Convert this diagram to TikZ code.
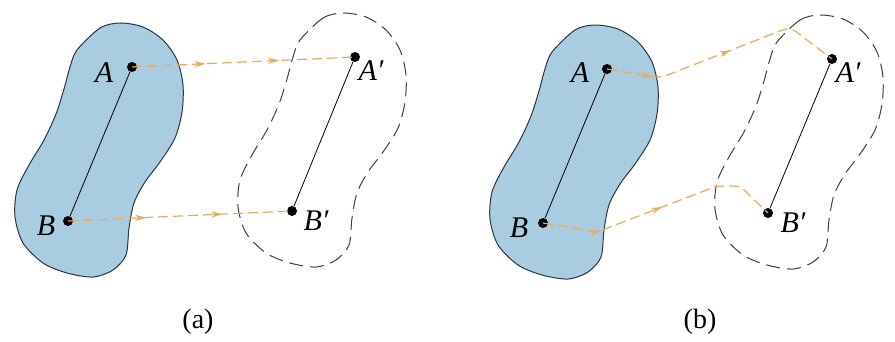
\documentclass[tikz,border=0pt]{standalone}
\usepackage{fontspec}
\setmainfont{Liberation Serif}
\usetikzlibrary{arrows.meta,decorations.markings}
\definecolor{bodyblue}{RGB}{170,204,225}
\definecolor{edge}{RGB}{40,55,68}
\definecolor{trail}{RGB}{233,172,92}
\tikzset{
  blob/.pic={\path[pic actions] plot[smooth cycle, tension=0.5] coordinates {
    (77,50) (100,28) (120,23) (143,27) (163,40) (177,60) (183,85) (182,112)
    (175,138) (160,162) (145,182) (134,203) (129,228) (126,255) (113,270)
    (93,277) (67,273) (43,263) (23,243) (15,217) (17,190) (29,165) (44,140)
    (56,114) (64,89) (70,67)};},
  solidbody/.style={fill=bodyblue, draw=edge, line width=1pt},
  ghost/.style={draw=black!75, line width=1pt, dash pattern=on 14pt off 7pt},
  dot/.style={circle, fill=black, inner sep=0pt, minimum size=10pt},
  lbl/.style={font=\fontsize{30}{34}\selectfont\itshape, inner sep=0pt},
  captext/.style={font=\fontsize{28}{32}\selectfont, inner sep=0pt},
  seg/.style={line width=0.8pt, black},
  trailpath/.style={draw=trail, line width=1.2pt, dash pattern=on 10pt off 5pt},
  twoheads/.style 2 args={postaction={decorate}, decoration={markings,
    mark=at position #1 with {\arrow[trail]{Stealth[length=11pt,width=6pt,inset=3pt]}},
    mark=at position #2 with {\arrow[trail]{Stealth[length=11pt,width=6pt,inset=3pt]}}}}
}
\begin{document}
\begin{tikzpicture}[x=1pt,y=-1pt]
\useasboundingbox (0,0) rectangle (895,341);
\fill[white] (0,0) rectangle (895,341);
% ---------- panel (a)
\pic[solidbody] at (0,0) {blob};
\pic[ghost] at (223,-10) {blob};
\node[dot] (A) at (132,67) {};
\node[dot] (B) at (68,221) {};
\node[dot] (A1) at (355,57) {};
\node[dot] (B1) at (292,211) {};
\draw[seg] (A) -- (B);
\draw[seg] (A1) -- (B1);
\path[trailpath, twoheads={0.33}{0.66}] (A.center) -- (A1.center);
\path[trailpath, twoheads={0.35}{0.69}] (B.center) -- (B1.center);
\node[lbl] (lA) at (104,73) {A};
\node[lbl] (lB) at (46,226) {B};
\node[lbl] (lA1) at (371,71) {A′};
\node[lbl] (lB1) at (316,221) {B′};
\node[captext] (ca) at (198,322) {(a)};
% ---------- panel (b)
\pic[solidbody] at (475,2) {blob};
\pic[ghost] at (700,-8) {blob};
\node[dot] (P) at (607,69) {};
\node[dot] (Q) at (543,223) {};
\node[dot] (P1) at (832,59) {};
\node[dot] (Q1) at (768,213) {};
\draw[seg] (P) -- (Q);
\draw[seg] (P1) -- (Q1);
\coordinate (p1) at (660,78);
\coordinate (p2) at (790,27);
\coordinate (q1) at (597,232);
\coordinate (q2) at (717,186);
\coordinate (q3) at (740,186);
\path[trailpath, rounded corners=8pt, twoheads={0.19}{0.53}] (P.center) -- (p1) -- (p2) -- (P1.center);
\path[trailpath, rounded corners=6pt, twoheads={0.24}{0.51}] (Q.center) -- (q1) -- (q2) -- (q3) -- (Q1.center);
\node[lbl] (lP) at (580,73) {A};
\node[lbl] (lQ) at (519,228) {B};
\node[lbl] (lP1) at (848,73) {A′};
\node[lbl] (lQ1) at (793,223) {B′};
\node[captext] (cb) at (700,322) {(b)};
\end{tikzpicture}
\end{document}
